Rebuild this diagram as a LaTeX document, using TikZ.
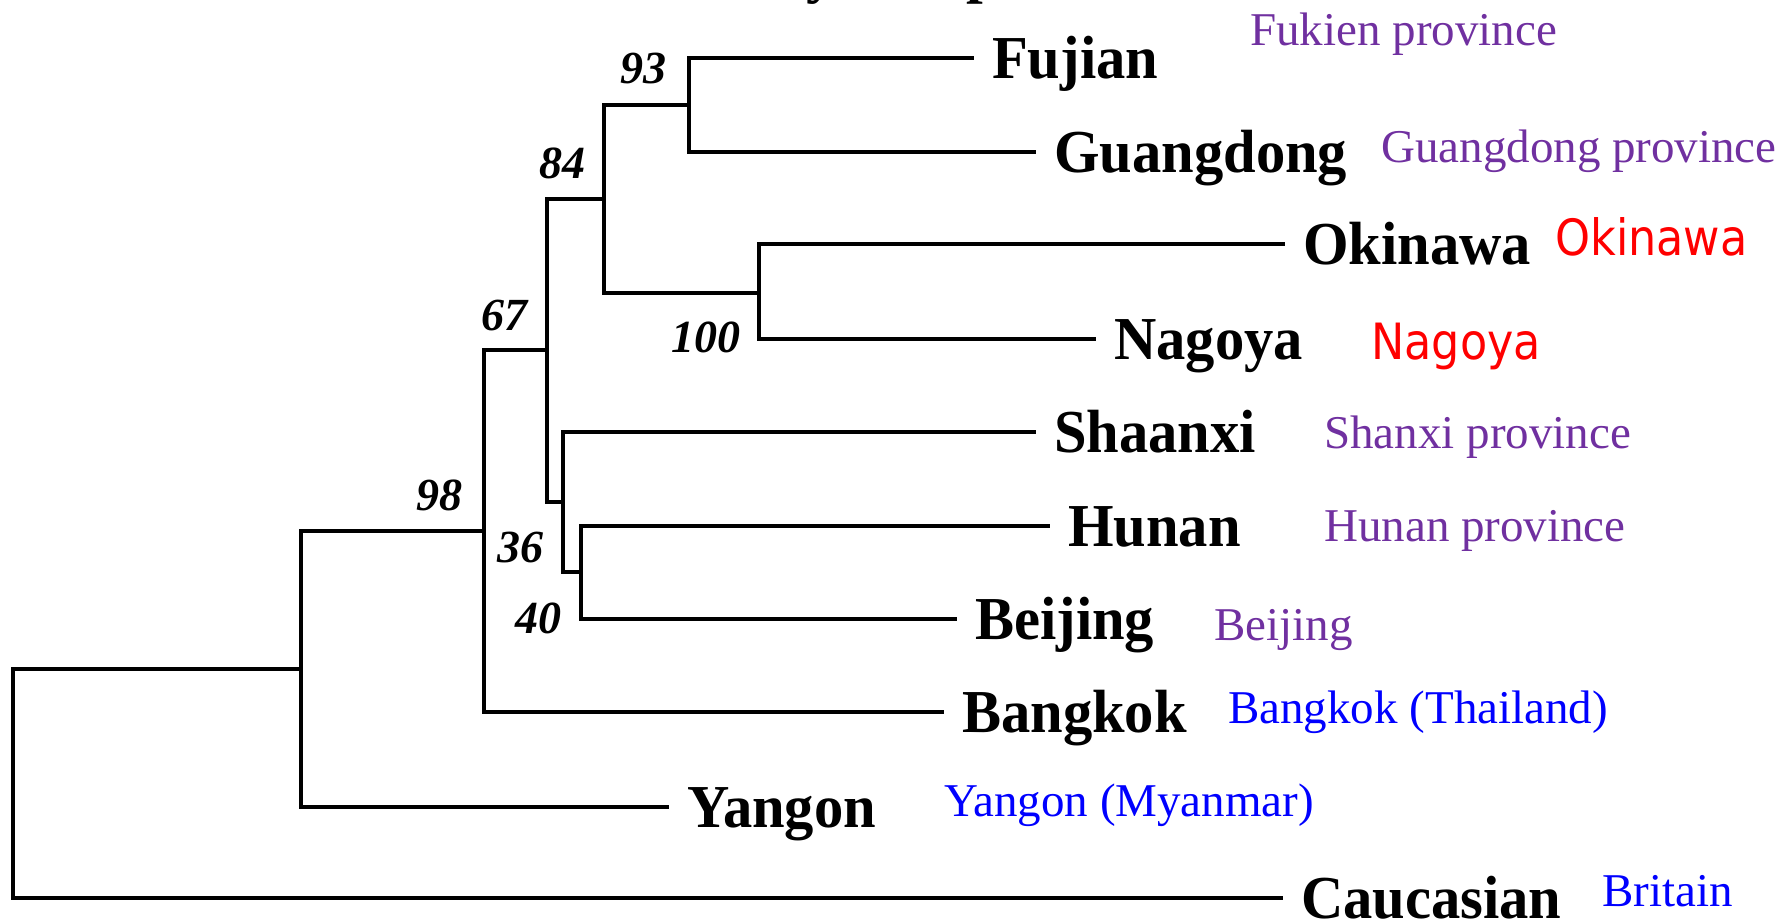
\documentclass[tikz,border=0pt]{standalone}
\usepackage{fontspec}
\setmainfont{Liberation Serif}
\newfontfamily\leaffont[FakeStretch=0.96]{Liberation Serif}
\newfontfamily\redfont[FakeStretch=0.89]{DejaVu Sans}
\definecolor{purp}{HTML}{7030A0}
\definecolor{blu}{HTML}{0000FF}
\definecolor{rd}{HTML}{FF0000}
\begin{document}
\begin{tikzpicture}[x=1pt,y=-1pt,
  tree/.style={line width=3.4pt, line join=miter},
  leaf/.style={anchor=west, inner xsep=18pt, inner ysep=0pt, text height=40pt, text depth=0pt,
    font=\leaffont\bfseries\fontsize{61}{61}\selectfont},
  boot/.style={anchor=base east, inner sep=0pt, font=\bfseries\itshape\fontsize{46}{46}\selectfont},
  ann/.style={anchor=base west, inner sep=0pt, font=\fontsize{47}{47}\selectfont},
  annred/.style={anchor=base west, inner sep=0pt, text=rd, font=\redfont\fontsize{50}{50}\selectfont},
  titlefrag/.style={anchor=base west, inner sep=0pt, font=\bfseries\fontsize{60}{60}\selectfont}]
\useasboundingbox (0,0) rectangle (1789,919);
% title fragments cut off at the top
\begin{scope}
\clip (0,0) rectangle (1789,919);
\node[titlefrag] (ty) at (806,-9) {y};
\node[titlefrag] (tp) at (966,-9) {p};
\end{scope}
% inner nodes
\coordinate (root) at (13,783);
\coordinate (nA) at (301,669);
\coordinate (n98) at (484,531);
\coordinate (n67) at (547,350);
\coordinate (n84) at (604,199);
\coordinate (n93) at (689,105);
\coordinate (n100) at (759,293);
\coordinate (n36) at (563,502);
\coordinate (n40) at (581,572);
% leaves
\node[leaf] (fujian) at (974,58) {Fujian};
\node[leaf] (guangdong) at (1036,152) {Guangdong};
\node[leaf] (okinawa) at (1285,244) {Okinawa};
\node[leaf] (nagoya) at (1096,339) {Nagoya};
\node[leaf] (shaanxi) at (1036,432) {Shaanxi};
\node[leaf] (hunan) at (1050,526) {Hunan};
\node[leaf] (beijing) at (957,619) {Beijing};
\node[leaf] (bangkok) at (944,712) {Bangkok};
\node[leaf] (yangon) at (669,807) {Yangon};
\node[leaf] (caucasian) at (1283,898) {Caucasian};
% branches
\draw[tree] (root) |- (nA);
\draw[tree] (root) |- (caucasian.west);
\draw[tree] (nA) |- (n98);
\draw[tree] (nA) |- (yangon.west);
\draw[tree] (n98) |- (n67);
\draw[tree] (n98) |- (bangkok.west);
\draw[tree] (n67) |- (n84);
\draw[tree] (n67) |- (n36);
\draw[tree] (n84) |- (n93);
\draw[tree] (n84) |- (n100);
\draw[tree] (n93) |- (fujian.west);
\draw[tree] (n93) |- (guangdong.west);
\draw[tree] (n100) |- (okinawa.west);
\draw[tree] (n100) |- (nagoya.west);
\draw[tree] (n36) |- (shaanxi.west);
\draw[tree] (n36) |- (n40);
\draw[tree] (n40) |- (hunan.west);
\draw[tree] (n40) |- (beijing.west);
% bootstrap values
\node[boot] (b93) at (667,83) {93};
\node[boot] (b84) at (586,178) {84};
\node[boot] (b67) at (528,330) {67};
\node[boot] (b100) at (741,352) {100};
\node[boot] (b98) at (463,510) {98};
\node[boot] (b36) at (544,562) {36};
\node[boot] (b40) at (562,633) {40};
% annotations
\node[ann, text=purp] (afujian) at (1250,45) {Fukien province};
\node[ann, text=purp] (aguang) at (1381,162) {Guangdong province};
\node[annred] (aokin) at (1555,255) {Okinawa};
\node[annred] (anago) at (1371,359) {Nagoya};
\node[ann, text=purp] (ashan) at (1324,448) {Shanxi province};
\node[ann, text=purp] (ahunan) at (1324,541) {Hunan province};
\node[ann, text=purp] (abeij) at (1214,640) {Beijing};
\node[ann, text=blu] (abang) at (1228,723) {Bangkok (Thailand)};
\node[ann, text=blu] (ayang) at (944,816) {Yangon (Myanmar)};
\node[ann, text=blu] (abrit) at (1602,906) {Britain};
\end{tikzpicture}
\end{document}
